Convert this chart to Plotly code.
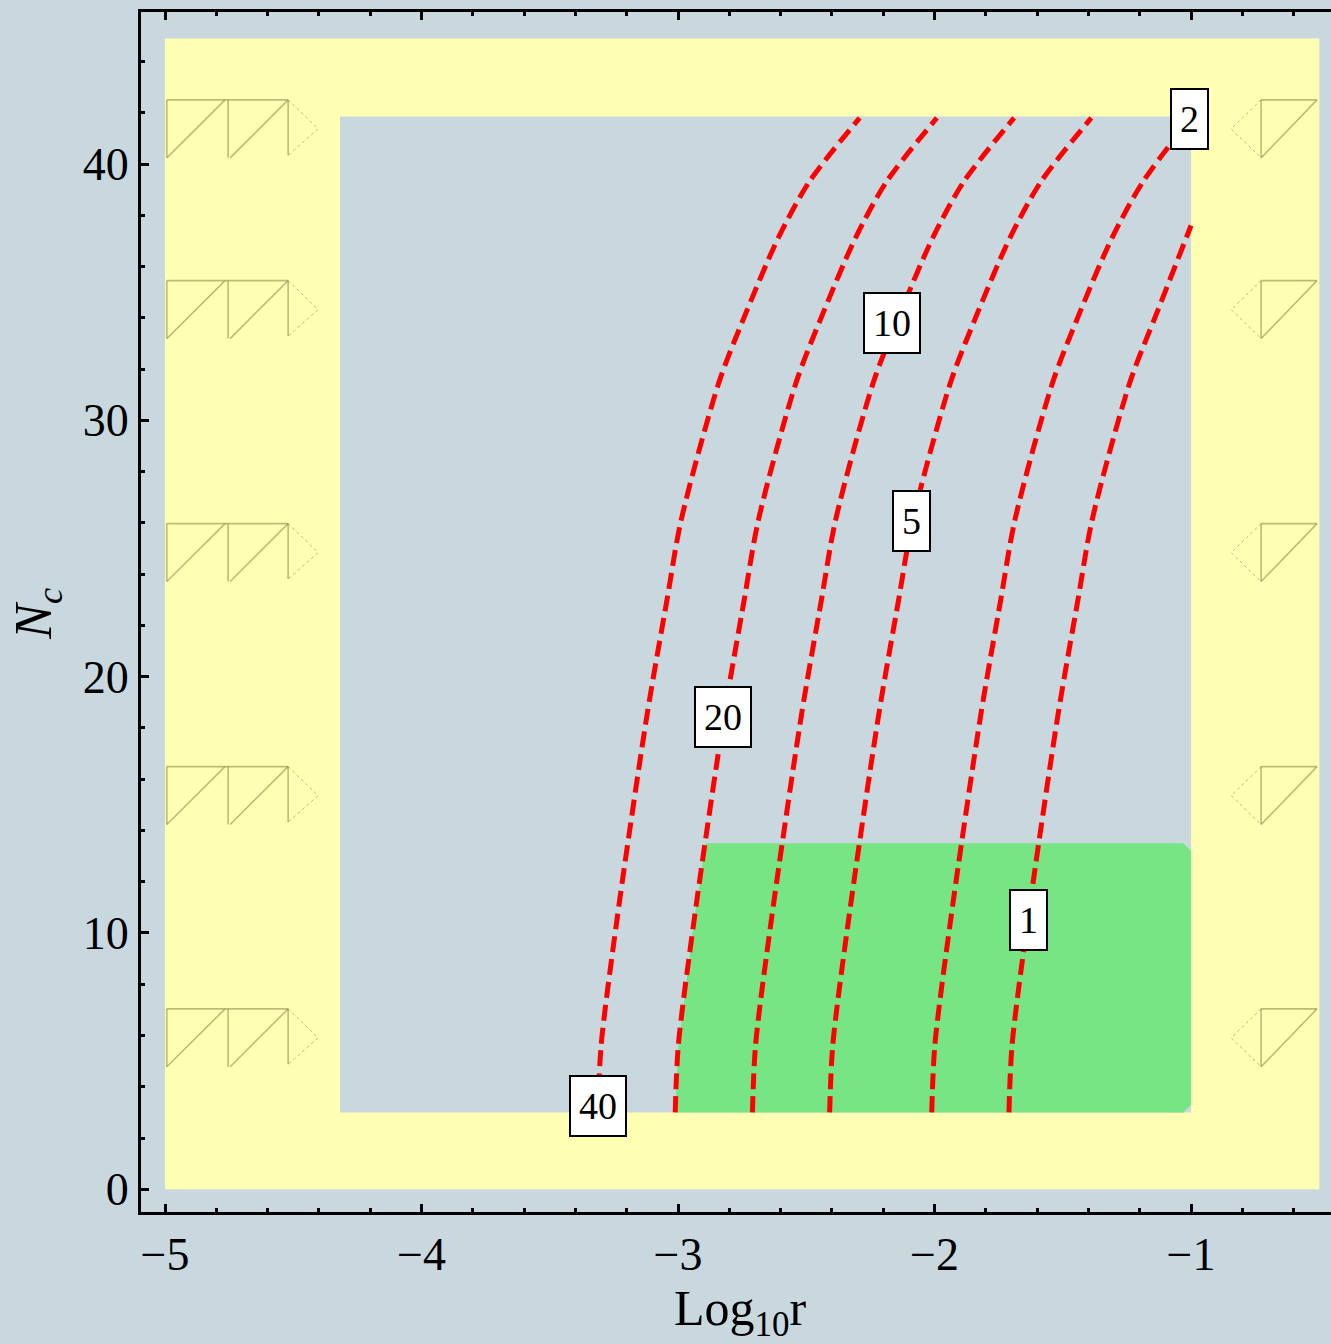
import plotly.graph_objects as go

# ---- data -------------------------------------------------------------
# Contour levels and the red dashed lines (x = Log10 r, y = N_c)
LEVELS = ["40", "20", "10", "5", "2", "1"]
N_GRID = [3, 5.6, 10.6, 18.5, 23, 26.1, 31.5, 34.2, 37.1, 39.3, 41.8]
X_40 = [-3.312, -3.300, -3.237, -3.121, -3.043, -2.988, -2.840, -2.735, -2.610, -2.489, -2.292]
X_20 = [-3.011, -2.999, -2.936, -2.820, -2.742, -2.687, -2.539, -2.434, -2.309, -2.188, -1.991]
X_10 = [-2.710, -2.698, -2.635, -2.519, -2.441, -2.386, -2.238, -2.133, -2.008, -1.887, -1.690]
X_5 = [-2.409, -2.397, -2.334, -2.218, -2.140, -2.085, -1.937, -1.832, -1.707, -1.586, -1.389]
X_2 = [-2.011, -1.999, -1.936, -1.820, -1.742, -1.687, -1.539, -1.434, -1.309, -1.188, -1.000]
N_1 = [3, 5.6, 10.6, 18.5, 23, 26.1, 31.5, 34.2, 37.6]
X_1 = [-1.710, -1.698, -1.635, -1.519, -1.441, -1.386, -1.238, -1.133, -1.000]

# Contour label positions
LABEL_X = [-3.312, -2.825, -2.167, -2.088, -1.006, -1.635]
LABEL_N = [3.25, 18.43, 33.8, 26.08, 41.76, 10.51]

# Outer (yellow) region and the inner excluded window
OUTER_X = [-5.0, -0.5]
OUTER_N = [0.0, 44.9]
INNER_X = [-4.318, -1.0]
INNER_N = [3.0, 41.85]

# Allowed (green) region: left side follows the level-20 contour
GREEN_LEFT_N = [3, 5.6, 10.6, 13.5]
GREEN_LEFT_X = [-3.011, -2.999, -2.936, -2.893]
GREEN_RIGHT = -1.0
GREEN_TOP = 13.5
GREEN_BOTTOM = 3.0

# Mesh artefacts left in the yellow band (top N of each row)
GLYPH_ROWS = [42.5, 35.45, 25.97, 16.49, 7.04]
GLYPH_H = 2.26
GLYPH_LEFT_X = [-4.993, -4.754, -4.520, -4.403]
GLYPH_RIGHT_X = [-0.844, -0.727, -0.509]

# ---- styling ----------------------------------------------------------
BG = "#c9d8df"
YELLOW = "#ffffb4"
GREEN = "#78e585"
RED = "#ff0000"
GLYPH = "rgba(150,140,80,0.6)"
FONT = "Liberation Serif"

fig = go.Figure()

# green allowed region
gx = GREEN_LEFT_X[:]
gy = GREEN_LEFT_N[:]
gx += [GREEN_RIGHT - 0.03, GREEN_RIGHT, GREEN_RIGHT, GREEN_RIGHT - 0.03]
gy += [GREEN_TOP, GREEN_TOP - 0.3, GREEN_BOTTOM + 0.3, GREEN_BOTTOM]
gx.append(GREEN_LEFT_X[0])
gy.append(GREEN_BOTTOM)
fig.add_trace(go.Scatter(x=gx, y=gy, fill="toself", fillcolor=GREEN,
                         mode="lines", line=dict(width=0, color=GREEN),
                         hoverinfo="skip", showlegend=False))

# mesh artefact glyphs
for top in GLYPH_ROWS:
    bot = top - GLYPH_H
    mid = top - GLYPH_H / 2
    a, b, c, d = GLYPH_LEFT_X
    fig.add_trace(go.Scatter(
        x=[a, c, None, a, a, None, b, b, None, c, c, None, a, b - 0.012, None, b + 0.008, c],
        y=[top, top, None, top, bot, None, top, bot, None, top, bot + 0.1, None, bot, top, None, bot, top],
        mode="lines", line=dict(color=GLYPH, width=1.6),
        hoverinfo="skip", showlegend=False))
    fig.add_trace(go.Scatter(
        x=[c, d, c], y=[top, mid, bot + 0.1], mode="lines",
        line=dict(color=GLYPH, width=1, dash="dot"),
        hoverinfo="skip", showlegend=False))
    e, f, g = GLYPH_RIGHT_X
    fig.add_trace(go.Scatter(
        x=[f, g, None, f, f, None, f, g],
        y=[top, top, None, top, bot, None, bot, top],
        mode="lines", line=dict(color=GLYPH, width=1.6),
        hoverinfo="skip", showlegend=False))
    fig.add_trace(go.Scatter(
        x=[f, e, f], y=[top, mid, bot], mode="lines",
        line=dict(color=GLYPH, width=1, dash="dot"),
        hoverinfo="skip", showlegend=False))

# red dashed contour lines
for xs, ns in [(X_40, N_GRID), (X_20, N_GRID), (X_10, N_GRID),
               (X_5, N_GRID), (X_2, N_GRID), (X_1, N_1)]:
    fig.add_trace(go.Scatter(x=xs, y=ns, mode="lines",
                             line=dict(color=RED, width=5, dash="16px,7px",
                                       shape="spline", smoothing=0.8),
                             hoverinfo="skip", showlegend=False))

# contour labels
for txt, lx, ln in zip(LEVELS, LABEL_X, LABEL_N):
    fig.add_annotation(x=lx, y=ln, text=txt, showarrow=False,
                       font=dict(family=FONT, size=38, color="black"),
                       bgcolor="white", bordercolor="black", borderwidth=2,
                       borderpad=8)

# outer yellow band with inner window
fig.add_shape(type="rect", x0=OUTER_X[0], x1=OUTER_X[1], y0=OUTER_N[0], y1=OUTER_N[1],
              fillcolor=YELLOW, line=dict(width=0), layer="below")
fig.add_shape(type="rect", x0=INNER_X[0], x1=INNER_X[1], y0=INNER_N[0], y1=INNER_N[1],
              fillcolor=BG, line=dict(width=0), layer="below")

# axis titles
fig.add_annotation(xref="paper", yref="paper", x=0.504, y=-0.083,
                   text="Log<sub>10</sub>r", showarrow=False,
                   font=dict(family=FONT, size=50, color="black"),
                   xanchor="center", yanchor="middle")
fig.add_annotation(xref="paper", yref="paper", x=-0.087, y=0.499,
                   text="<i>N</i><sub><i>c</i></sub>", showarrow=False, textangle=-90,
                   font=dict(family=FONT, size=52, color="black"),
                   xanchor="center", yanchor="middle")

axis_common = dict(showgrid=False, zeroline=False, showline=True, linecolor="black",
                   linewidth=3, ticks="inside", ticklen=8, tickwidth=2.5,
                   tickcolor="black",
                   tickfont=dict(family=FONT, size=46, color="black"))

fig.update_layout(
    width=1331, height=1344,
    margin=dict(l=141, r=0, t=12, b=132),
    paper_bgcolor=BG, plot_bgcolor=BG,
    xaxis=dict(range=[-5.0936, -0.4545], tickvals=[-5, -4, -3, -2, -1],
               mirror="ticks",
               minor=dict(dtick=0.2, tick0=-5, ticks="inside", ticklen=4,
                          tickwidth=2.5, tickcolor="black"),
               **axis_common),
    yaxis=dict(range=[-0.886, 45.93], tickvals=[0, 10, 20, 30, 40],
               minor=dict(dtick=2, tick0=0, ticks="inside", ticklen=4,
                          tickwidth=2.5, tickcolor="black"),
               **axis_common),
)

fig.write_html("out.html")
